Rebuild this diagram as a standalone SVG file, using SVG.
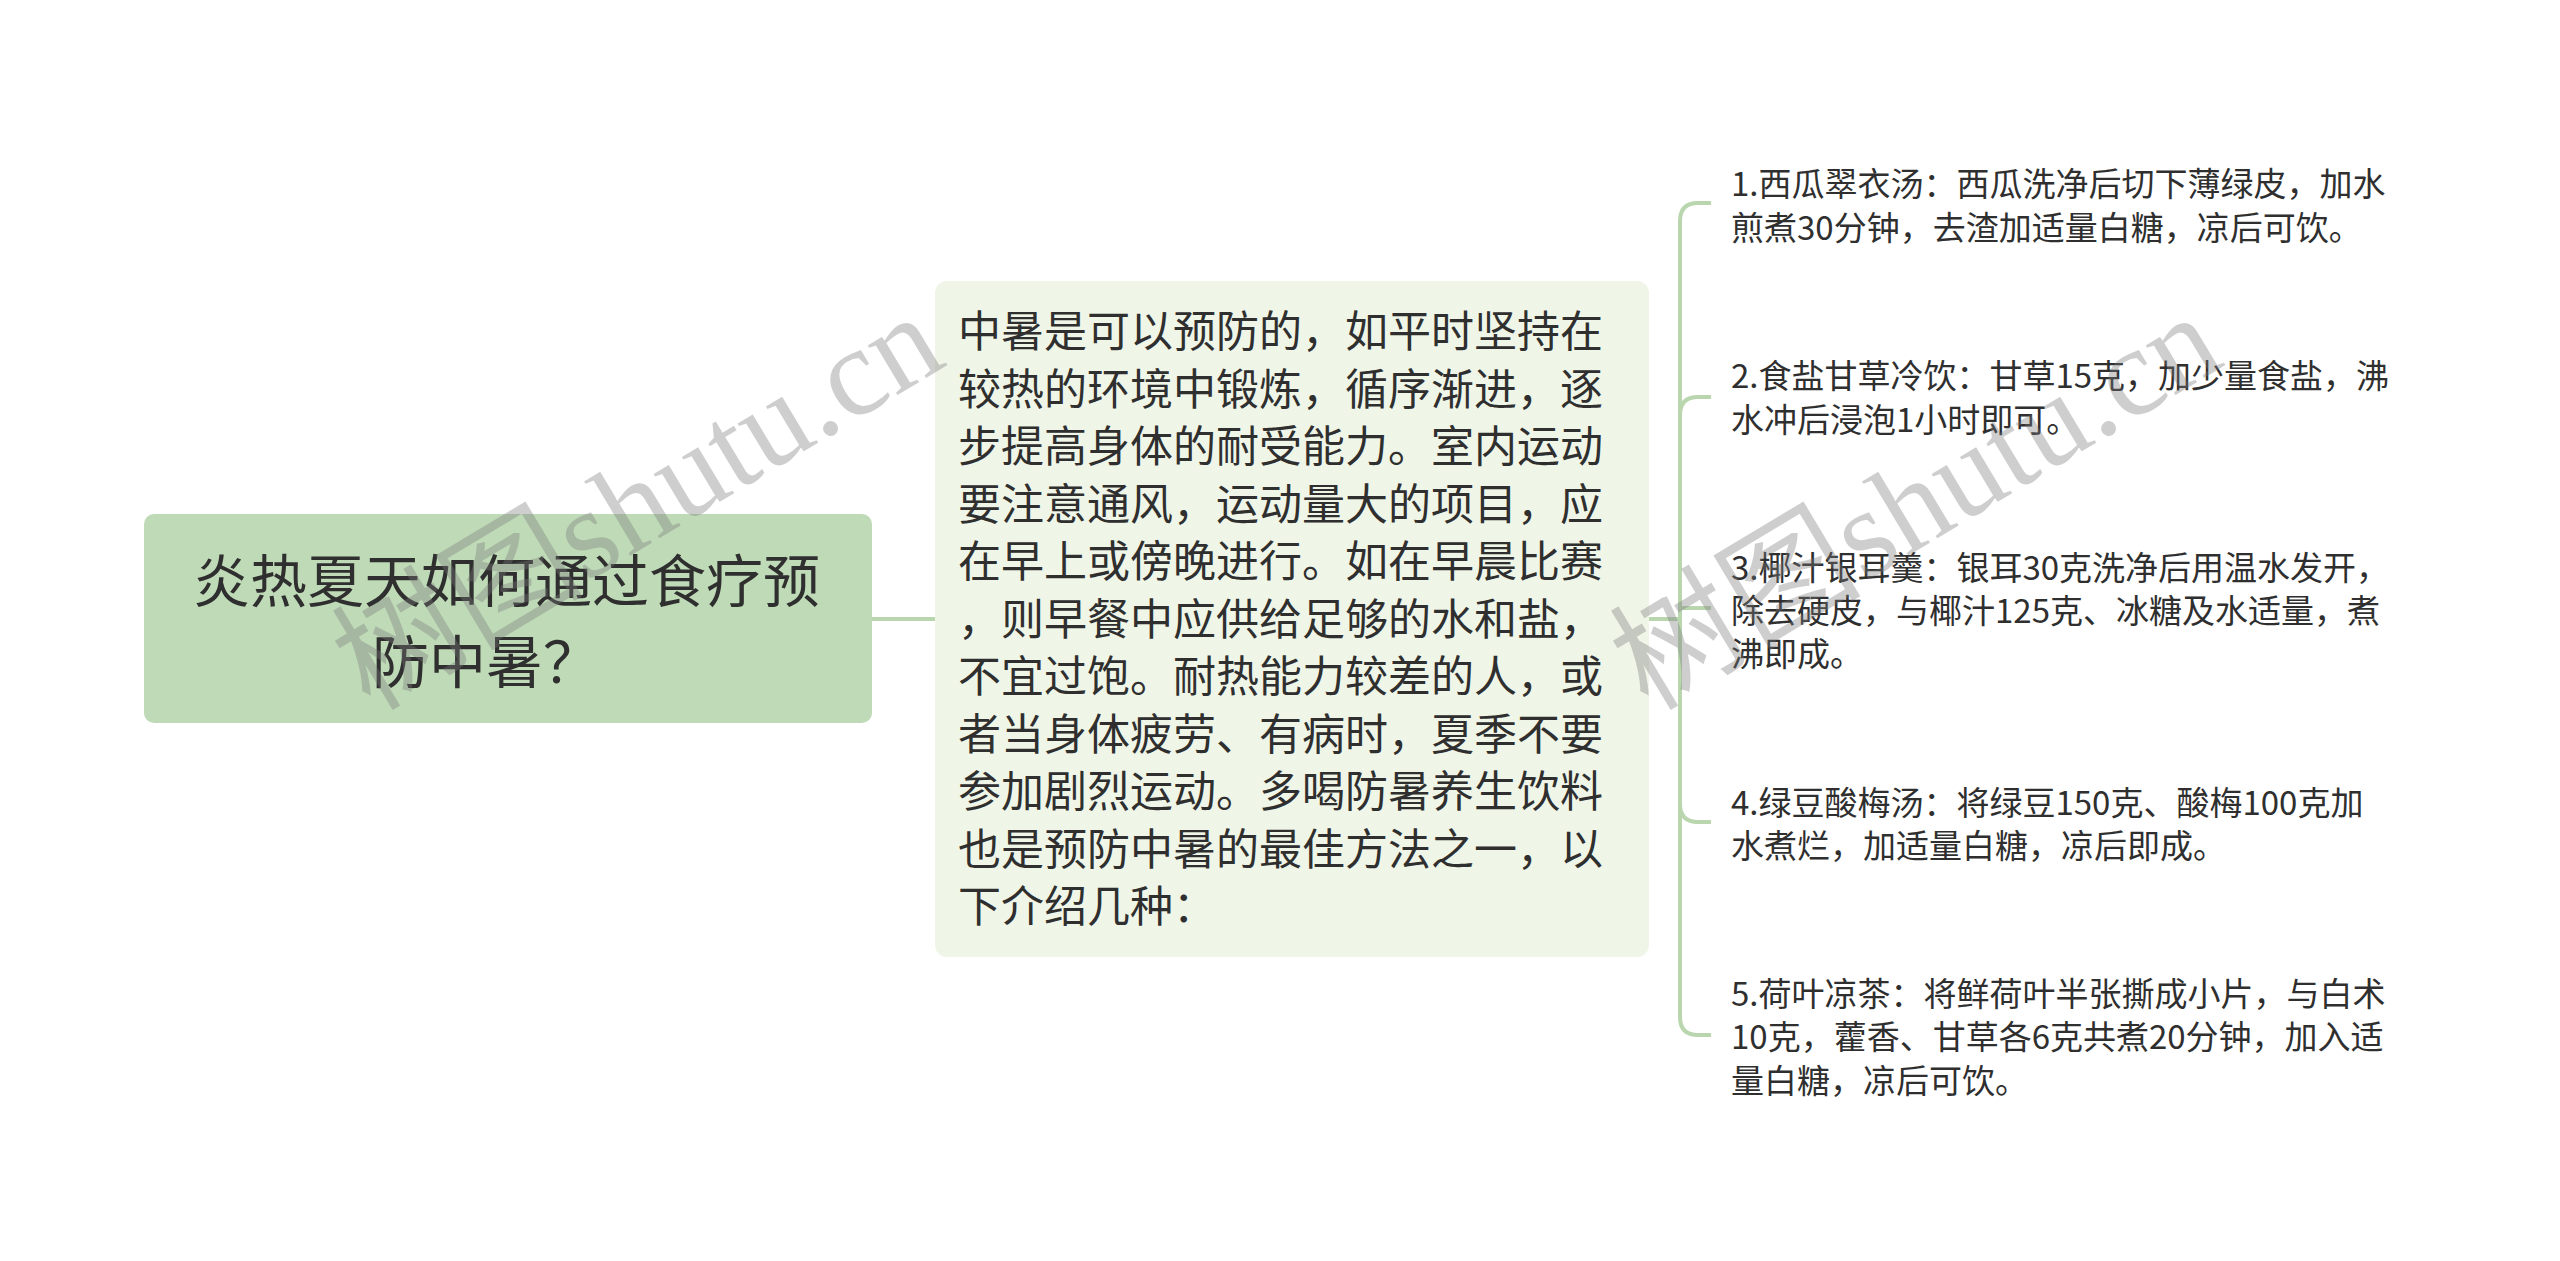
<svg xmlns="http://www.w3.org/2000/svg" width="2560" height="1261" viewBox="0 0 2560 1261">
<style>
.t{font-family:"Noto Sans CJK SC","Noto Sans",sans-serif;fill:#2f2f2f}
.root{font-size:57px}
.mid{font-size:43px}
.leaf{font-size:33px}
.conn path{fill:none;stroke:#b9d6af;stroke-width:4;stroke-linecap:butt}
.wm{font-family:"Liberation Serif","Noto Sans CJK SC",serif;font-size:126px;fill:#7a7a7a;opacity:0.36}
</style>
<rect width="2560" height="1261" fill="#ffffff"/>
<g id="connectors" class="conn">
<path d="M872,619 H935"/>
<path d="M1649,619 H1680"/>
<path d="M1680,619 V221 Q1680,203 1698,203 H1711"/>
<path d="M1680,619 V415 Q1680,397 1698,397 H1711"/>
<path d="M1680,608 H1711"/>
<path d="M1680,619 V804 Q1680,822 1698,822 H1711"/>
<path d="M1680,619 V1017 Q1680,1035 1698,1035 H1711"/>
</g>
<g id="root">
<rect x="144" y="514" width="728" height="209" rx="10" fill="#bfdab7"/>
<text class="t root" x="193" y="602">炎热夏天如何通过食疗预</text>
<text class="t root" x="372" y="683">防中暑？</text>
</g>
<g id="main">
<rect x="935" y="281" width="714" height="676" rx="12" fill="#eff6e8"/>
<text class="t mid" x="958" y="347">中暑是可以预防的，如平时坚持在</text>
<text class="t mid" x="958" y="405">较热的环境中锻炼，循序渐进，逐</text>
<text class="t mid" x="958" y="462">步提高身体的耐受能力。室内运动</text>
<text class="t mid" x="958" y="520">要注意通风，运动量大的项目，应</text>
<text class="t mid" x="958" y="577">在早上或傍晚进行。如在早晨比赛</text>
<text class="t mid" x="958" y="635">，则早餐中应供给足够的水和盐，</text>
<text class="t mid" x="958" y="692">不宜过饱。耐热能力较差的人，或</text>
<text class="t mid" x="958" y="750">者当身体疲劳、有病时，夏季不要</text>
<text class="t mid" x="958" y="807">参加剧烈运动。多喝防暑养生饮料</text>
<text class="t mid" x="958" y="865">也是预防中暑的最佳方法之一，以</text>
<text class="t mid" x="958" y="922">下介绍几种：</text>
</g>
<g id="item1">
<text class="t leaf" x="1731" y="196">1.西瓜翠衣汤：西瓜洗净后切下薄绿皮，加水</text>
<text class="t leaf" x="1731" y="240">煎煮30分钟，去渣加适量白糖，凉后可饮。</text>
</g>
<g id="item2">
<text class="t leaf" x="1731" y="388">2.食盐甘草冷饮：甘草15克，加少量食盐，沸</text>
<text class="t leaf" x="1731" y="432">水冲后浸泡1小时即可。</text>
</g>
<g id="item3">
<text class="t leaf" x="1731" y="580">3.椰汁银耳羹：银耳30克洗净后用温水发开，</text>
<text class="t leaf" x="1731" y="623">除去硬皮，与椰汁125克、冰糖及水适量，煮</text>
<text class="t leaf" x="1731" y="666">沸即成。</text>
</g>
<g id="item4">
<text class="t leaf" x="1731" y="815">4.绿豆酸梅汤：将绿豆150克、酸梅100克加</text>
<text class="t leaf" x="1731" y="858">水煮烂，加适量白糖，凉后即成。</text>
</g>
<g id="item5">
<text class="t leaf" x="1731" y="1006">5.荷叶凉茶：将鲜荷叶半张撕成小片，与白术</text>
<text class="t leaf" x="1731" y="1049">10克，藿香、甘草各6克共煮20分钟，加入适</text>
<text class="t leaf" x="1731" y="1093">量白糖，凉后可饮。</text>
</g>
<g id="watermarks">
<text class="wm" x="370" y="712" transform="rotate(-31 370 712)">树图shutu.cn</text>
<text class="wm" x="1648" y="712" transform="rotate(-31 1648 712)">树图shutu.cn</text>
</g>
</svg>
